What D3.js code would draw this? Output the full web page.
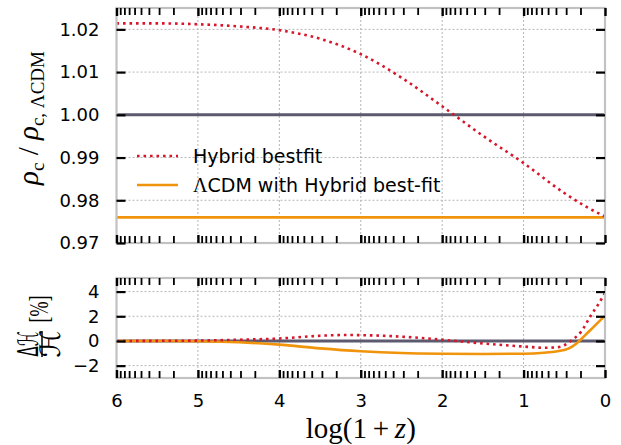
<!DOCTYPE html>
<html>
<head>
<meta charset="utf-8">
<script src="https://cdn.jsdelivr.net/npm/d3@7"></script>
<style>
  body { margin: 0; background: #fff; }
  svg text { font-family: "DejaVu Sans", sans-serif; }
  .tick text { font-size: 18px; fill: #000; }
</style>
</head>
<body>
<div id="chart"></div>
<script>
// x values: log(1+z)
const logzTop = [6, 5.5, 5, 4.5, 4, 3.5, 3, 2.5, 2, 1.5, 1, 0.5, 0.25, 0];
const rhoHybrid = [1.0214, 1.0214, 1.0212, 1.0207, 1.0198, 1.0178, 1.0142, 1.0087, 1.002, 0.9951, 0.9887, 0.9817, 0.9787, 0.9762];
const rhoLcdmLogz = [6, 0];
const rhoLcdm = [0.976, 0.976];
const rhoRef = [1.0, 1.0];

const logzHybH = [6, 5.5, 5, 4.5, 4, 3.5, 3.2, 3, 2.5, 2, 1.5, 1, 0.75, 0.6, 0.5, 0.42, 0.3, 0.17, 0.07, 0];
const dHHybrid = [0, 0.01, 0.03, 0.1, 0.2, 0.42, 0.48, 0.47, 0.35, 0.1, -0.2, -0.45, -0.55, -0.52, -0.35, 0, 0.7, 2.1, 3.1, 3.9];
const logzLcdmH = [6, 5.5, 5, 4.5, 4, 3.5, 3, 2.5, 2, 1.5, 1, 0.75, 0.6, 0.45, 0.35, 0.3, 0.2, 0.1, 0];
const dHLcdm = [0, 0, -0.02, -0.1, -0.3, -0.6, -0.83, -0.97, -1.03, -1.05, -1.03, -0.95, -0.85, -0.62, -0.2, 0.1, 0.75, 1.4, 2.05];
const dHRef = [0, 0];

const xMajor = [6, 5, 4, 3, 2, 1, 0];
const yTopTicks = [0.97, 0.98, 0.99, 1.00, 1.01, 1.02];
const yBotTicks = [-2, 0, 2, 4];

const colors = { hybrid: "#d7162b", lcdm: "#f0940c", ref: "#5c5a6e" };

const width = 621, height = 445;
const left = 116.5, right = 605;
const top1 = 8, bot1 = 243, top2 = 278, bot2 = 378;

// log-style minor ticks inside each unit
const xMinor = [];
for (let n = 0; n < 6; n++) {
  for (let k = 2; k < 10; k++) xMinor.push(n + Math.log10(k));
}

const svg = d3.select("#chart").append("svg")
  .attr("width", width).attr("height", height);

const x = d3.scaleLinear().domain([6, 0]).range([left, right]);
const yTop = d3.scaleLinear().domain([0.97, 1.025]).range([bot1, top1]);
const yBot = d3.scaleLinear().domain([-3, 5.1]).range([bot2, top2]);

const zip = (xs, ys) => xs.map((v, i) => [v, ys[i]]);

function drawPanel(y, yTicks, yFmt, y0, y1, series) {
  const g = svg.append("g");

  // grid
  g.selectAll(".gx").data(xMajor).enter().append("line")
    .attr("x1", (d) => x(d)).attr("x2", (d) => x(d))
    .attr("y1", y0).attr("y2", y1)
    .attr("stroke", "#b5b5b5").attr("stroke-width", 1)
    .attr("stroke-dasharray", "2,2");
  g.selectAll(".gy").data(yTicks).enter().append("line")
    .attr("x1", left).attr("x2", right)
    .attr("y1", (d) => y(d)).attr("y2", (d) => y(d))
    .attr("stroke", "#b5b5b5").attr("stroke-width", 1)
    .attr("stroke-dasharray", "2,2");

  // data lines
  const clipId = "clip" + y0;
  svg.append("clipPath").attr("id", clipId).append("rect")
    .attr("x", left).attr("y", y0).attr("width", right - left).attr("height", y1 - y0);
  const lineG = g.append("g").attr("clip-path", `url(#${clipId})`);
  series.forEach((s) => {
    lineG.append("path")
      .datum(s.data)
      .attr("fill", "none")
      .attr("stroke", s.color)
      .attr("stroke-width", s.width)
      .attr("stroke-dasharray", s.dash || null)
      .attr("d", d3.line().x((d) => x(d[0])).y((d) => y(d[1])).curve(d3.curveMonotoneX));
  });

  // frame
  g.append("rect")
    .attr("x", left).attr("y", y0)
    .attr("width", right - left).attr("height", y1 - y0)
    .attr("fill", "none").attr("stroke", "#c2c2c2").attr("stroke-width", 2.2);

  // inward ticks
  const tickAxis = (axis, tr, vals, size, w) => {
    const a = g.append("g").attr("transform", tr)
      .call(axis.tickValues(vals).tickSize(size).tickFormat(""));
    a.select(".domain").remove();
    a.selectAll("line").attr("stroke", "#000").attr("stroke-width", w);
  };
  tickAxis(d3.axisTop(x), `translate(0,${y0})`, xMajor, -8, 2.4);
  tickAxis(d3.axisTop(x), `translate(0,${y0})`, xMinor, -7, 1.8);
  tickAxis(d3.axisBottom(x), `translate(0,${y1})`, xMajor, -8, 2.4);
  tickAxis(d3.axisBottom(x), `translate(0,${y1})`, xMinor, -7, 1.8);
  tickAxis(d3.axisLeft(y), `translate(${left},0)`, yTicks, -9, 2.2);
  tickAxis(d3.axisRight(y), `translate(${right},0)`, yTicks, -9, 2.2);

  // y labels
  const lab = g.append("g").attr("transform", `translate(${left},0)`)
    .call(d3.axisLeft(y).tickValues(yTicks).tickSize(0).tickPadding(17).tickFormat(yFmt));
  lab.select(".domain").remove();
  return g;
}

drawPanel(yTop, yTopTicks, d3.format(".2f"), top1, bot1, [
  { data: zip(rhoLcdmLogz, rhoRef), color: colors.ref, width: 3 },
  { data: zip(rhoLcdmLogz, rhoLcdm), color: colors.lcdm, width: 2.6 },
  { data: zip(logzTop, rhoHybrid), color: colors.hybrid, width: 2.6, dash: "2.6,3.9" }
]);

drawPanel(yBot, yBotTicks, (d) => (d < 0 ? "\u2212" + Math.abs(d) : d), top2, bot2, [
  { data: zip(rhoLcdmLogz, dHRef), color: colors.ref, width: 3 },
  { data: zip(logzLcdmH, dHLcdm), color: colors.lcdm, width: 2.6 },
  { data: zip(logzHybH, dHHybrid), color: colors.hybrid, width: 2.6, dash: "2.6,3.9" }
]);

// x tick labels
const xl = svg.append("g").attr("transform", `translate(0,${bot2})`)
  .call(d3.axisBottom(x).tickValues(xMajor).tickSize(0).tickPadding(16).tickFormat(d3.format("d")));
xl.select(".domain").remove();

// x axis title
svg.append("text")
  .attr("x", (left + right) / 2).attr("y", 438)
  .attr("text-anchor", "middle")
  .style("font-family", "'Liberation Serif', 'DejaVu Serif', serif")
  .style("font-size", "29px")
  .html('log(1&#8201;+&#8201;<tspan font-style="italic">z</tspan>)');

// top y title
svg.append("text")
  .attr("transform", "translate(38,118) rotate(-90)")
  .attr("text-anchor", "middle")
  .style("font-family", "'Liberation Serif', 'DejaVu Serif', serif")
  .style("font-size", "29px")
  .html('<tspan font-style="italic">ρ</tspan><tspan font-size="19px" dy="6">c</tspan><tspan dy="-6"> / </tspan><tspan font-style="italic">ρ</tspan><tspan font-size="19px" dy="6">c, ΛCDM</tspan>');

// bottom y title: fraction + [%]
const fr = svg.append("g").attr("transform", "translate(42,344) rotate(-90)")
  .style("font-family", "'DejaVu Sans', sans-serif");
fr.append("text").attr("x", 0).attr("y", -4).attr("text-anchor", "middle")
  .attr("textLength", 25).attr("lengthAdjust", "spacingAndGlyphs")
  .style("font-size", "28px").text("Δℋ");
fr.append("line").attr("x1", -13).attr("x2", 13).attr("y1", 0).attr("y2", 0)
  .attr("stroke", "#000").attr("stroke-width", 1.5);
fr.append("text").attr("x", 0).attr("y", 18).attr("text-anchor", "middle")
  .style("font-size", "28px").text("ℋ");
fr.append("text").attr("x", 35).attr("y", 6).attr("text-anchor", "middle")
  .attr("textLength", 27).attr("lengthAdjust", "spacingAndGlyphs")
  .style("font-family", "'Liberation Serif', serif")
  .style("font-size", "28px").text("[%]");

// legend
const legend = [
  { label: "Hybrid bestfit", color: colors.hybrid, dash: "2.6,3.9" },
  { label: "ΛCDM with Hybrid best-fit", color: colors.lcdm, dash: null }
];
const lg = svg.append("g").attr("transform", "translate(137,156)");
legend.forEach((d, i) => {
  lg.append("line").attr("x1", 0).attr("x2", 41).attr("y1", i * 29).attr("y2", i * 29)
    .attr("stroke", d.color).attr("stroke-width", 2.6).attr("stroke-dasharray", d.dash);
  const t = lg.append("text").attr("x", 56).attr("y", i * 29 + 7).style("font-size", "19px");
  if (d.label.startsWith("Λ")) {
    t.append("tspan").style("font-family", "'Liberation Serif', serif").style("font-size", "20px").text("Λ");
    t.append("tspan").text(d.label.slice(1));
  } else {
    t.text(d.label);
  }
});
</script>
</body>
</html>
